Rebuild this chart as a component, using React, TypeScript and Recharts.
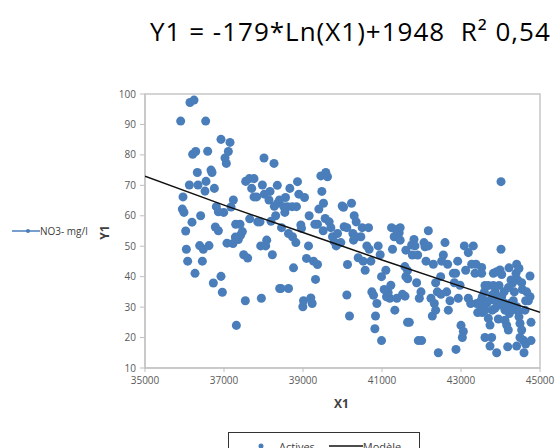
import { ScatterChart, Scatter, XAxis, YAxis, ZAxis, ReferenceArea } from 'recharts';

// points, [X1, Y1]
const westPoints: [number, number][] = [
    [36139, 97.2], [36241, 98.0], [35903, 91.1], [36536, 91.1], [36924, 85.1], [37152, 84.1],
    [36207, 80.2], [36283, 81.1], [36587, 81.2], [37110, 81.1], [37026, 79.0], [37059, 77.2],
    [36325, 74.2], [36671, 75.0], [36696, 74.2], [36123, 70.1], [36342, 70.1], [36545, 71.3],
    [36519, 68.1], [36756, 69.0], [35962, 66.2], [35945, 62.2], [35987, 61.1], [36409, 60.0],
    [36190, 57.9], [36030, 55.0], [36806, 63.0], [36857, 61.3], [36992, 61.1], [37237, 65.2],
    [37178, 62.9], [36781, 56.3], [36857, 55.1], [37296, 57.2], [37405, 57.2], [37465, 54.8],
    [37422, 53.7], [37287, 53.0], [37228, 50.9], [37076, 51.0], [37363, 52.2], [36384, 50.2],
    [36477, 49.0], [36620, 50.2], [36047, 49.0], [36080, 45.1], [36452, 45.1], [36266, 41.1],
    [36730, 37.9], [36924, 40.1], [36958, 34.9], [37498, 47.2], [37600, 46.1], [37540, 32.1],
    [37313, 24.0], [37946, 32.9], [37549, 71.3], [37642, 72.2], [37760, 72.2], [37701, 69.0],
    [37971, 70.1], [38013, 79.0], [38266, 77.2], [37760, 66.2], [37827, 66.2], [38022, 67.1],
    [38165, 68.0], [38139, 65.2], [38274, 63.1], [38350, 70.0], [38358, 64.1], [38308, 60.0],
    [37650, 59.0], [37853, 58.0], [37912, 58.0], [38190, 58.2], [38081, 52.0], [37929, 50.1],
    [38055, 50.1], [38224, 47.2], [38410, 36.1],
];

const middlePoints: [number, number][] = [
    [38405, 65.2], [38557, 66.0], [38667, 69.0], [38861, 71.2], [38895, 67.1], [39038, 66.0],
    [38515, 63.0], [38608, 63.0], [38726, 63.0], [38835, 63.0], [38540, 61.1], [38456, 56.1],
    [38633, 54.2], [38734, 53.1], [38819, 51.2], [38945, 57.0], [38962, 55.9], [39156, 60.0],
    [39300, 57.2], [39367, 57.2], [39401, 62.2], [39519, 64.1], [39477, 68.0], [39452, 73.1],
    [39578, 74.2], [39620, 72.8], [39561, 59.1], [39663, 58.0], [39705, 56.1], [39511, 55.1],
    [39747, 53.1], [39789, 51.5], [39874, 54.2], [39890, 50.9], [39840, 50.1], [39958, 51.2],
    [40026, 62.8], [39992, 63.2], [40042, 56.4], [40110, 56.1], [40228, 64.1], [40296, 60.0],
    [40346, 58.0], [40262, 54.2], [40279, 52.0], [40338, 53.1], [40464, 53.1], [40498, 56.1],
    [40659, 56.1], [40397, 46.2], [40523, 45.1], [40574, 42.1], [40616, 50.1], [40675, 49.0],
    [40718, 45.1], [40903, 50.1], [40954, 47.2], [41097, 42.1], [40988, 40.0], [40127, 44.0],
    [39139, 50.1], [39089, 46.0], [39266, 45.1], [39367, 44.0], [39317, 39.1], [38760, 42.9],
    [38439, 36.1], [38633, 36.1], [39013, 32.1], [39198, 33.0], [39232, 31.2], [38996, 30.1],
    [40110, 34.0], [40177, 27.1], [40743, 35.0], [40785, 33.9], [40870, 31.2], [40836, 27.1],
    [40819, 22.9], [40988, 19.0], [41055, 35.8], [41156, 34.8], [41224, 37.2], [41114, 33.4],
    [41198, 32.9], [41376, 32.9], [41325, 29.0], [41519, 34.2], [41646, 25.0], [41241, 56.1],
    [41359, 55.5], [41460, 56.1], [41435, 54.4], [41308, 53.1], [41460, 52.0], [41266, 49.0],
    [41604, 48.7], [41604, 40.0], [41646, 42.0], [41578, 43.3],
];

const eastPoints: [number, number][] = [
    [44013, 71.2], [44013, 49.0], [42173, 55.1], [41810, 52.2], [42063, 51.2], [41751, 50.4],
    [41835, 50.1], [41768, 47.1], [41903, 47.1], [42088, 49.8], [42173, 50.1], [42595, 51.2],
    [43084, 50.1], [43185, 47.9], [43312, 50.1], [42553, 47.1], [42114, 45.1], [42299, 44.1],
    [42510, 45.1], [42662, 44.1], [42916, 45.1], [43270, 44.1], [43380, 44.1], [43523, 43.0],
    [43118, 42.1], [42806, 41.1], [42865, 41.1], [43354, 41.1], [43523, 41.1], [43819, 41.1],
    [43903, 41.6], [43987, 42.2], [44030, 40.7], [44215, 42.9], [44409, 44.1], [44468, 42.7],
    [44393, 41.1], [44747, 40.2], [41650, 39.3], [41582, 33.6], [41877, 38.0], [41987, 35.0],
    [41945, 32.9], [42240, 32.9], [42358, 38.0], [42485, 40.0], [42401, 35.0], [42493, 34.2],
    [42637, 35.0], [42721, 32.1], [42831, 38.0], [42975, 37.2], [42932, 32.9], [43185, 32.9],
    [43245, 31.2], [42325, 31.2], [42358, 29.0], [42274, 27.1], [42679, 29.0], [41692, 25.0],
    [41920, 19.0], [42004, 19.0], [42426, 15.0], [42873, 16.1], [43000, 24.0], [43059, 22.0],
    [43034, 20.0], [43607, 37.1], [43692, 37.1], [43819, 37.1], [43962, 37.1], [43591, 35.0],
    [43540, 33.4], [43506, 32.1], [43523, 30.1], [43397, 31.2], [43422, 28.2], [43540, 28.2],
    [43607, 29.0], [43650, 31.2], [43734, 32.3], [43844, 32.3], [43928, 33.4], [44030, 33.4],
    [44089, 35.0], [43692, 26.3], [43734, 24.1], [43607, 20.0], [43776, 20.0], [43734, 17.2],
    [43903, 15.0], [43945, 26.1], [44114, 25.7], [44156, 24.1], [44198, 22.5], [43793, 29.0],
    [43861, 29.6], [43987, 30.7], [44114, 29.0], [44224, 27.9], [44282, 29.0], [44114, 31.2],
    [44240, 31.2], [44325, 32.1], [44409, 30.1], [44451, 28.5], [44468, 26.8], [44494, 24.6],
    [44536, 22.5], [44494, 20.0], [44578, 19.1], [44637, 17.9], [44409, 17.2], [44182, 17.0],
    [44595, 15.0], [44773, 19.0], [44773, 25.0], [44620, 29.0], [44637, 32.1], [44705, 32.1],
    [44747, 33.4], [44553, 35.8], [44662, 35.0], [44536, 38.0], [44434, 38.9], [44266, 38.9],
    [44299, 37.8], [44198, 36.4], [44350, 35.0], [43793, 34.0], [43861, 35.0], [43481, 31.2],
];

// model line
const modelX = [35000, 37000, 39000, 41000, 43000, 45000];
const modelY = [73, 63.5, 54.5, 45.5, 36.8, 28.3];

const xTicks = [35000, 37000, 39000, 41000, 43000, 45000];
const yTicks = [10, 20, 30, 40, 50, 60, 70, 80, 90, 100];

const actives = [...westPoints, ...middlePoints, ...eastPoints].map(([x, y]) => ({ x, y }));
const model = modelX.map((x, i) => ({ x, y: modelY[i] }));

const DOT = '#4a7ebb';
const tickStyle = { fontSize: 10, fill: '#595959', fontFamily: 'Open Sans' };

export default function App() {
    return (
        <div style={{ position: 'absolute', left: 0, top: 0, width: 555, height: 448, overflow: 'hidden', background: '#fff', fontFamily: 'Open Sans' }}>
            <div style={{ position: 'absolute', left: 150, top: 13, fontSize: 26, letterSpacing: 1, color: '#000', whiteSpace: 'nowrap' }}>
                Y1 = -179*Ln(X1)+1948&nbsp;&nbsp;R² 0,54
            </div>

            <ScatterChart width={555} height={448} margin={{ top: 94, right: 15, bottom: 50, left: 0 }}>
                <XAxis
                    type="number"
                    dataKey="x"
                    domain={[35000, 45000]}
                    ticks={xTicks}
                    height={30}
                    tick={tickStyle}
                    tickSize={4}
                    tickMargin={5}
                    stroke="#bfbfbf"
                    allowDataOverflow
                />
                <YAxis
                    type="number"
                    dataKey="y"
                    domain={[10, 100]}
                    ticks={yTicks}
                    width={145}
                    tick={tickStyle}
                    tickSize={5}
                    tickMargin={4}
                    stroke="#bfbfbf"
                    allowDataOverflow
                />
                <ZAxis range={[42, 42]} />
                <ReferenceArea x1={35000} x2={45000} y1={10} y2={100} fill="none" stroke="#c6c6c6" strokeWidth={1.5} />
                <Scatter data={actives} fill={DOT} isAnimationActive={false} />
                <Scatter
                    data={model}
                    line={{ stroke: '#111', strokeWidth: 1.5 }}
                    shape={() => null}
                    isAnimationActive={false}
                />
            </ScatterChart>

            <div style={{ position: 'absolute', left: 334, top: 395, fontSize: 12, fontWeight: 700, color: '#404040' }}>X1</div>
            <div style={{ position: 'absolute', left: 97, top: 224, fontSize: 12, fontWeight: 700, color: '#404040', transform: 'rotate(-90deg)' }}>Y1</div>

            <div style={{ position: 'absolute', left: 12, top: 224, display: 'flex', alignItems: 'center', fontSize: 10, color: '#404040' }}>
                <svg width={28} height={12}>
                    <line x1={0} y1={6} x2={28} y2={6} stroke={DOT} strokeWidth={1.5} />
                    <circle cx={16} cy={6} r={2} fill={DOT} />
                </svg>
                <span>NO3- mg/l</span>
            </div>

            <div style={{ position: 'absolute', left: 228, top: 432, width: 192, height: 30, boxSizing: 'border-box', border: '1px solid #333', display: 'flex', alignItems: 'flex-start', paddingTop: 6, fontSize: 11, color: '#404040' }}>
                <svg width={44} height={14}>
                    <circle cx={32} cy={7} r={2.5} fill={DOT} />
                </svg>
                <span style={{ marginLeft: 6 }}>Actives</span>
                <svg width={34} height={14} style={{ marginLeft: 14 }}>
                    <line x1={0} y1={7} x2={34} y2={7} stroke="#111" strokeWidth={1.5} />
                </svg>
                <span>Modèle</span>
            </div>
        </div>
    );
}
